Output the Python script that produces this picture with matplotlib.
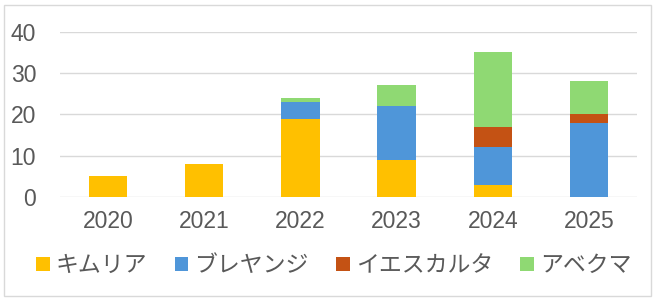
import numpy as np
import matplotlib.pyplot as plt
from matplotlib.patches import Rectangle

plt.rcParams['font.family'] = ['Liberation Sans', 'Noto Sans CJK JP', 'DejaVu Sans']

years = ['2020', '2021', '2022', '2023', '2024', '2025']
kymriah = [5, 8, 19, 9, 3, 0]
breyanzi = [0, 0, 4, 13, 9, 18]
yescarta = [0, 0, 0, 0, 5, 2]
abecma = [0, 0, 1, 5, 18, 8]

names = ['キムリア', 'ブレヤンジ', 'イエスカルタ', 'アベクマ']
colors = ['#FFC000', '#4F96D9', '#C45214', '#8FD973']
series = [kymriah, breyanzi, yescarta, abecma]

fig = plt.figure(figsize=(6.57, 3.01), dpi=100)
ax = fig.add_axes([0.091, 0.3455, 0.879, 0.549])

x = np.arange(len(years))
bottom = np.zeros(len(years))
for vals, name, c in zip(series, names, colors):
    ax.bar(x, vals, 0.4, bottom=bottom, color=c, label=name, zorder=3)
    bottom += np.array(vals)

ax.set_xlim(-0.5, len(years) - 0.5)
ax.set_ylim(0, 40)
ax.set_yticks([0, 10, 20, 30, 40])
ax.set_xticks(x)
ax.set_xticklabels(years)
ax.grid(axis='y', color='#D9D9D9', linewidth=1, zorder=0)
for s in ax.spines.values():
    s.set_visible(False)
ax.tick_params(length=0, labelsize=16.5, colors='#595959')
ax.tick_params(axis='y', pad=17)
ax.tick_params(axis='x', pad=9)

leg = fig.legend(loc='center', bbox_to_anchor=(0.508, 0.118), ncol=4, frameon=False,
                 fontsize=16.5, handlelength=0.6, handleheight=0.6, handletextpad=0.25,
                 columnspacing=1.2)
for t in leg.get_texts():
    t.set_color('#595959')
    t.set_family(['Noto Sans CJK JP', 'DejaVu Sans'])

fig.patches.append(Rectangle((4 / 657, 5 / 301), 647 / 657, 291 / 301,
                             transform=fig.transFigure, fill=False,
                             edgecolor='#D9D9D9', linewidth=1))

fig.savefig('out.png', dpi=100)
